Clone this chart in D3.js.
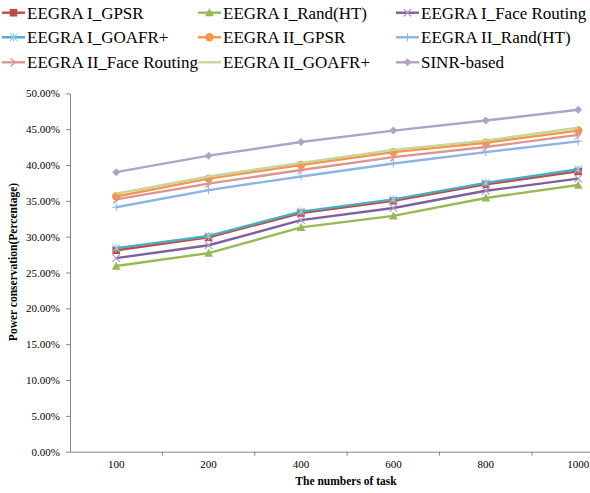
<!DOCTYPE html>
<html>
<head>
<meta charset="utf-8">
<script src="https://cdn.jsdelivr.net/npm/d3@7"></script>
<style>
  html, body { margin: 0; padding: 0; background: #fff; }
  svg { display: block; }
  svg text { font-family: "Liberation Serif", "DejaVu Serif", "Times New Roman", serif; }
</style>
</head>
<body>
<svg id="chart" width="590" height="493"></svg>
<script>
// Task counts on the x axis
const categories = ["100", "200", "400", "600", "800", "1000"];

// Power conservation (percent) per algorithm
const eegra1Gpsr   = [28.1, 29.9, 33.3, 35.0, 37.3, 39.1];
const eegra1Rand   = [25.9, 27.7, 31.3, 32.9, 35.4, 37.2];
const eegra1Face   = [27.0, 28.8, 32.3, 34.0, 36.4, 38.1];
const eegra1Goafr  = [28.4, 30.1, 33.5, 35.2, 37.5, 39.4];
const eegra2Gpsr   = [35.6, 38.1, 40.0, 41.8, 43.1, 44.8];
const eegra2Rand   = [34.1, 36.5, 38.4, 40.2, 41.8, 43.3];
const eegra2Face   = [35.2, 37.4, 39.3, 41.1, 42.5, 44.2];
const eegra2Goafr  = [36.0, 38.4, 40.3, 42.1, 43.4, 45.2];
const sinrBased    = [39.0, 41.3, 43.2, 44.8, 46.2, 47.7];

// Y tick values (percent)
const yTicks = [0, 5, 10, 15, 20, 25, 30, 35, 40, 45, 50];

const seriesNames = [
  "EEGRA I_GPSR", "EEGRA I_Rand(HT)", "EEGRA I_Face Routing",
  "EEGRA I_GOAFR+", "EEGRA II_GPSR", "EEGRA II_Rand(HT)",
  "EEGRA II_Face Routing", "EEGRA II_GOAFR+", "SINR-based"
];

const series = [
  { name: seriesNames[0], values: eegra1Gpsr,  color: "#BE4B48", marker: "square" },
  { name: seriesNames[1], values: eegra1Rand,  color: "#98B954", marker: "triangle" },
  { name: seriesNames[2], values: eegra1Face,  color: "#7D60A0", marker: "x" },
  { name: seriesNames[3], values: eegra1Goafr, color: "#4BACC6", marker: "star" },
  { name: seriesNames[4], values: eegra2Gpsr,  color: "#F79646", marker: "circle" },
  { name: seriesNames[5], values: eegra2Rand,  color: "#8EB4E3", marker: "plus" },
  { name: seriesNames[6], values: eegra2Face,  color: "#DA9694", marker: "arrow" },
  { name: seriesNames[7], values: eegra2Goafr, color: "#C3D69B", marker: "none" },
  { name: seriesNames[8], values: sinrBased,   color: "#B3A2C7", marker: "diamond" }
];

const serif = "'Liberation Serif', 'DejaVu Serif', serif";
const svg = d3.select("#chart");
const axisColor = "#868686";

const plotLeft = 70, plotTop = 93.3, plotBottom = 451.7;
const step = 92.4;

const x = d3.scaleBand()
  .domain(categories)
  .range([plotLeft, plotLeft + step * categories.length])
  .paddingInner(0).paddingOuter(0);

const y = d3.scaleLinear().domain([0, 50]).range([plotBottom, plotTop]);

// Y axis
const yAxis = svg.append("g")
  .attr("transform", `translate(${plotLeft},0)`)
  .call(d3.axisLeft(y).tickValues(yTicks)
    .tickFormat(d => d.toFixed(2) + "%")
    .tickSize(4).tickPadding(6).tickSizeOuter(0));
yAxis.attr("font-family", serif);
yAxis.select(".domain").attr("stroke", axisColor);
yAxis.selectAll(".tick line").attr("stroke", axisColor);
yAxis.selectAll(".tick text")
  .attr("fill", "#000").style("font-size", "11px")
  .style("font-family", serif);

// X axis: labels at band centres, tick marks on band boundaries
const xAxis = svg.append("g")
  .attr("transform", `translate(0,${plotBottom})`)
  .call(d3.axisBottom(x).tickSize(0).tickPadding(9).tickSizeOuter(0));
xAxis.attr("font-family", serif);
xAxis.select(".domain").attr("stroke", axisColor);
xAxis.selectAll(".tick text")
  .attr("fill", "#000").style("font-size", "11px")
  .style("font-family", serif);
xAxis.selectAll(".boundary")
  .data(categories.slice(1))
  .enter().append("line")
  .attr("class", "boundary")
  .attr("x1", d => x(d)).attr("x2", d => x(d))
  .attr("y1", 0).attr("y2", 4)
  .attr("stroke", axisColor);

// Axis titles
svg.append("text")
  .attr("x", 346).attr("y", 485)
  .attr("text-anchor", "middle")
  .style("font-family", serif)
  .style("font-size", "11.5px").style("font-weight", "bold")
  .text("The numbers of task");

svg.append("text")
  .attr("transform", "translate(17,262) rotate(-90)")
  .attr("text-anchor", "middle")
  .style("font-family", serif)
  .style("font-size", "11.5px").style("font-weight", "bold")
  .text("Power conservation(Percentage)");

// Marker drawing
function drawMarker(g, type, color, cx, cy) {
  const s = 3.8;
  switch (type) {
    case "square":
      g.append("rect").attr("x", cx - s).attr("y", cy - s)
        .attr("width", 2 * s).attr("height", 2 * s).attr("fill", color);
      break;
    case "triangle":
      g.append("path")
        .attr("d", `M${cx},${cy - 4.4}L${cx + 4.4},${cy + 3.6}L${cx - 4.4},${cy + 3.6}Z`)
        .attr("fill", color);
      break;
    case "x":
      g.append("path")
        .attr("d", `M${cx - 3.8},${cy - 3.8}L${cx + 3.8},${cy + 3.8}M${cx - 3.8},${cy + 3.8}L${cx + 3.8},${cy - 3.8}`)
        .attr("stroke", "#A996C4").attr("stroke-width", 1.1).attr("fill", "none");
      break;
    case "star":
      g.append("path")
        .attr("d", `M${cx - 3.6},${cy - 3.6}L${cx + 3.6},${cy + 3.6}M${cx - 3.6},${cy + 3.6}L${cx + 3.6},${cy - 3.6}M${cx},${cy - 4.2}L${cx},${cy + 4.2}`)
        .attr("stroke", "#93CDDD").attr("stroke-width", 1.1).attr("fill", "none");
      break;
    case "circle":
      g.append("circle").attr("cx", cx).attr("cy", cy).attr("r", 4.2).attr("fill", color);
      break;
    case "plus":
      g.append("path")
        .attr("d", `M${cx},${cy - 4}L${cx},${cy + 4}M${cx - 4},${cy}L${cx + 4},${cy}`)
        .attr("stroke", color).attr("stroke-width", 1).attr("fill", "none");
      break;
    case "arrow":
      g.append("path")
        .attr("d", `M${cx - 3},${cy - 4}L${cx + 2},${cy}L${cx - 3},${cy + 4}`)
        .attr("stroke", color).attr("stroke-width", 1.4).attr("fill", "none");
      break;
    case "diamond":
      g.append("path")
        .attr("d", `M${cx},${cy - 4}L${cx + 4},${cy}L${cx},${cy + 4}L${cx - 4},${cy}Z`)
        .attr("fill", color);
      break;
    default:
      break;
  }
}

// Series lines and markers
const line = d3.line()
  .x((d, i) => x(categories[i]) + x.bandwidth() / 2)
  .y(d => y(d));

series.forEach(s => {
  const g = svg.append("g");
  g.append("path")
    .attr("d", line(s.values))
    .attr("fill", "none")
    .attr("stroke", s.color)
    .attr("stroke-width", 2.4)
    .attr("stroke-linejoin", "round");
  s.values.forEach((v, i) => {
    drawMarker(g, s.marker, s.color, x(categories[i]) + x.bandwidth() / 2, y(v));
  });
});

// Legend: three columns, three rows
const legendCols = [2, 198, 396];
const legendRows = [12.7, 37.3, 62.3];
series.forEach((s, i) => {
  const col = i % 3, row = Math.floor(i / 3);
  const lx = legendCols[col], ly = legendRows[row];
  const g = svg.append("g");
  g.append("line")
    .attr("x1", lx).attr("x2", lx + 23)
    .attr("y1", ly).attr("y2", ly)
    .attr("stroke", s.color).attr("stroke-width", 2.4);
  drawMarker(g, s.marker, s.color, lx + 11.5, ly);
  g.append("text")
    .attr("x", lx + 25).attr("y", ly + 5.8)
    .style("font-family", serif)
    .style("font-size", "17px")
    .attr("fill", "#000")
    .text(s.name);
});
</script>
</body>
</html>
